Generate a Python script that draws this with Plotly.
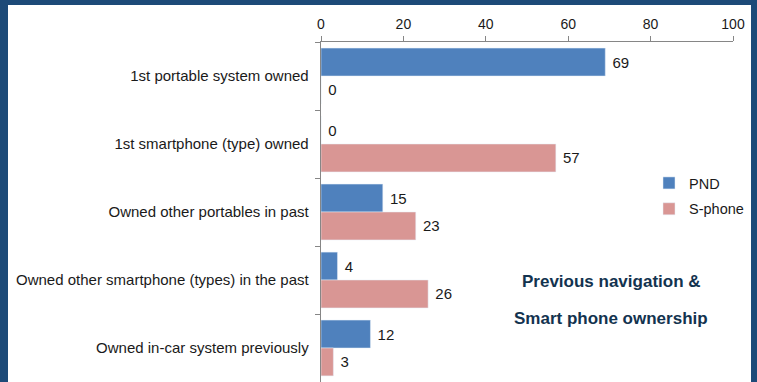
import plotly.graph_objects as go

categories = [
    "1st portable system owned",
    "1st smartphone (type) owned",
    "Owned other portables in past",
    "Owned other smartphone (types) in the past",
    "Owned in-car system previously",
]
pnd = [69, 0, 15, 4, 12]
sphone = [0, 57, 23, 26, 3]
series_names = ["PND", "S-phone"]
tick_vals = [0, 20, 40, 60, 80, 100]

W, H = 757, 382
L, R, T, B = 321, W - 733, 42, 0
pw, ph = W - L - R, H - T - B

def px2x(px):
    return (px - L) / pw

def py2y(py):
    return (H - B - py) / ph

FONT = "Liberation Sans, Arial, sans-serif"

fig = go.Figure()
fig.add_trace(go.Bar(
    y=categories, x=pnd, name=series_names[0], orientation="h",
    marker=dict(color="#4f81bd"), text=[" " + str(v) for v in pnd],
    textposition="outside", textfont=dict(size=15, color="#1a1a1a"),
    cliponaxis=False, legendgroup="a",
))
fig.add_trace(go.Bar(
    y=categories, x=sphone, name=series_names[1], orientation="h",
    marker=dict(color="#d99694"), text=[" " + str(v) for v in sphone],
    textposition="outside", textfont=dict(size=15, color="#1a1a1a"),
    cliponaxis=False, legendgroup="b",
))

fig.update_layout(
    width=W, height=H,
    margin=dict(l=L, r=R, t=T, b=B, pad=0, autoexpand=False),
    paper_bgcolor="#1d4a78",
    plot_bgcolor="white",
    barmode="group",
    bargap=0.18,
    bargroupgap=0,
    font=dict(family=FONT, size=14, color="#1a1a1a"),
    showlegend=True,
    legend=dict(xref="container", yref="container",
                x=649 / W, y=1 - 167 / H, xanchor="left", yanchor="top",
                bgcolor="rgba(0,0,0,0)", font=dict(size=14.5),
                itemwidth=30, tracegroupgap=4),
    xaxis=dict(side="top", range=[0, 100], tickvals=tick_vals,
               showgrid=False, zeroline=False, showline=True,
               linecolor="#868686", linewidth=1, ticks="outside",
               ticklen=5, tickcolor="#868686", tickfont=dict(size=14),
               ticklabelstandoff=1, automargin=False, fixedrange=True),
    yaxis=dict(autorange="reversed", showgrid=False, showline=True,
               linecolor="#868686", linewidth=1, ticks="outside",
               tickson="boundaries", ticklen=5, tickcolor="#868686",
               tickfont=dict(size=15), ticksuffix="  ", automargin=False),
    shapes=[dict(type="rect", xref="paper", yref="paper",
                 x0=px2x(8), x1=px2x(751), y0=py2y(382), y1=py2y(5),
                 fillcolor="white", line=dict(width=0), layer="below")],
    annotations=[
        dict(text="<b>Previous navigation &</b>", xref="paper", yref="paper",
             x=px2x(611), y=py2y(281), xanchor="center", yanchor="middle",
             showarrow=False, font=dict(size=17, color="#13334f")),
        dict(text="<b>Smart phone ownership</b>", xref="paper", yref="paper",
             x=px2x(611), y=py2y(318), xanchor="center", yanchor="middle",
             showarrow=False, font=dict(size=17, color="#13334f")),
    ],
)

fig.write_html(
    "out.html",
    config={"displayModeBar": False},
    post_script="document.body.style.margin='0';document.body.style.overflow='hidden';",
)
